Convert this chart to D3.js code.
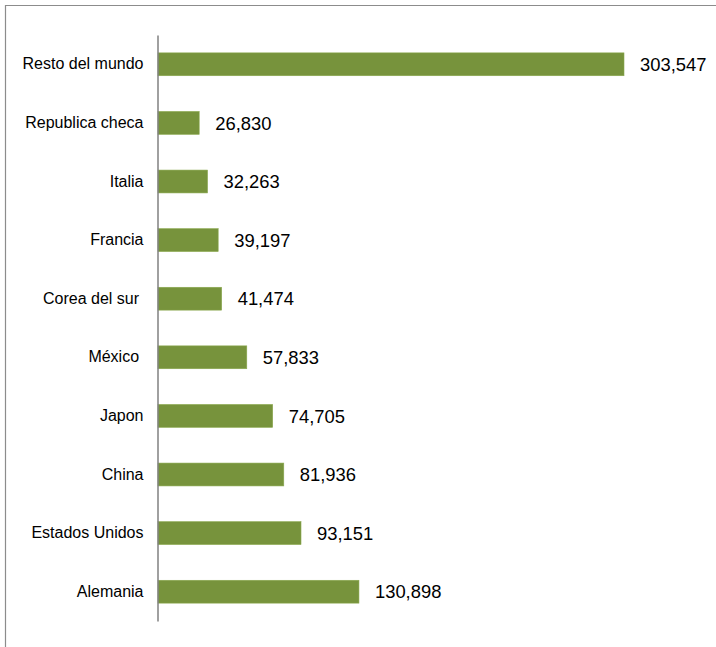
<!DOCTYPE html>
<html><head><meta charset="utf-8">
<script src="https://cdn.jsdelivr.net/npm/d3@7"></script>
<style>body{margin:0;background:#fff}svg{display:block}</style>
</head><body>
<script>
const categories = ["Resto del mundo","Republica checa","Italia","Francia","Corea del sur ","México ","Japon","China","Estados Unidos","Alemania"];
const values = [303547,26830,32263,39197,41474,57833,74705,81936,93151,130898];

(function(){
const W = 716, H = 647;
const svg = d3.select("body").append("svg").attr("width", W).attr("height", H);

// outer frame
svg.append("path").attr("d", `M5.5,${H} V5.5 H${W}`).attr("fill","none").attr("stroke","#8c8c8c").attr("stroke-width",1.2);

const x0 = 158, yTop = 35, yBottom = 621;
const x = d3.scaleLinear().domain([0, 303547]).range([x0, 624]);
const y = d3.scaleBand().domain(categories).range([yTop, yBottom]).paddingInner(0.61).paddingOuter(0.305);

const fmt = d3.format(",");

svg.selectAll("rect.bar").data(values).join("rect")
  .attr("class","bar")
  .attr("x", x0)
  .attr("y", (d,i) => y(categories[i]))
  .attr("width", d => x(d) - x0)
  .attr("height", y.bandwidth())
  .attr("fill", "#77933c")
  .attr("stroke", "#8aa84e").attr("stroke-width", 0.6);

svg.selectAll("text.val").data(values).join("text")
  .attr("class","val")
  .attr("x", d => x(d) + 16)
  .attr("y", (d,i) => y(categories[i]) + y.bandwidth()/2)
  .attr("dy", "0.36em")
  .attr("font-family", "Liberation Sans, Arial, sans-serif")
  .attr("font-size", 18.4)
  .attr("fill", "#000")
  .text(d => fmt(d));

const yAxis = d3.axisLeft(y).tickSize(0).tickPadding(14);
const g = svg.append("g").attr("transform", `translate(${x0 - 0.5},0)`).call(yAxis);
g.select(".domain").attr("stroke","#808080").attr("stroke-width",1.5);
g.selectAll("text").attr("font-family","Liberation Sans, Arial, sans-serif").attr("font-size",16).attr("fill","#000")
  .style("white-space","pre");
})();
</script>
</body></html>
